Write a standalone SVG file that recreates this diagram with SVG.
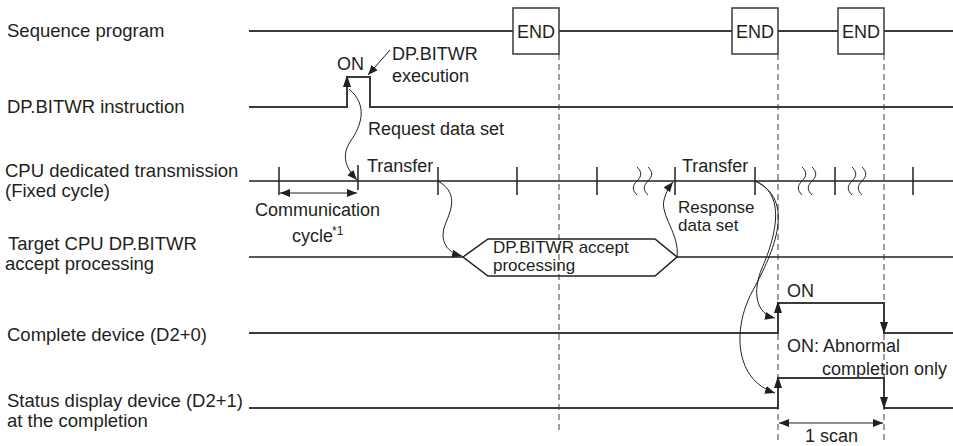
<svg xmlns="http://www.w3.org/2000/svg" width="953" height="446" viewBox="0 0 953 446">
<style>
text{font-family:"Liberation Sans",Arial,sans-serif;font-size:18px;fill:#231f20}
.lbl{font-size:18.5px}
.sm{font-size:17px}
.sig{fill:none;stroke:#3a3a3a;stroke-width:2}
.thin{fill:none;stroke:#231f20;stroke-width:1.5}
.tick{stroke:#231f20;stroke-width:1.5}
.dash{stroke:#808080;stroke-width:1.5;stroke-dasharray:6 4;fill:none}
.box{fill:#fff;stroke:#3a3a3a;stroke-width:1.5}
.con{fill:none;stroke:#231f20;stroke-width:1}
.ah{fill:#231f20}
.sup{font-size:12px}
</style>
<defs>
<marker id="arr" viewBox="0 0 10 10" refX="10" refY="5" markerWidth="10" markerHeight="10" markerUnits="userSpaceOnUse" orient="auto-start-reverse">
<path d="M0,1 L10,5 L0,9 Z" fill="#231f20"/>
</marker>
</defs>

<g id="guides">
<line class="dash" x1="559" y1="54" x2="559" y2="434"/>
<line class="dash" x1="778" y1="54" x2="778" y2="442"/>
<line class="dash" x1="884" y1="54" x2="884" y2="442"/>
</g>

<g id="sequence-program">
<text class="lbl" x="7" y="37">Sequence program</text>
<line class="sig" x1="249" y1="31" x2="953" y2="31"/>
<rect class="box" x="513" y="8" width="46" height="46"/>
<text x="536" y="38" text-anchor="middle">END</text>
<rect class="box" x="732" y="8" width="46" height="46"/>
<text x="755" y="38" text-anchor="middle">END</text>
<rect class="box" x="838" y="8" width="46" height="46"/>
<text x="861" y="38" text-anchor="middle">END</text>
</g>

<g id="instruction">
<text class="lbl" x="7" y="113">DP.BITWR instruction</text>
<polyline class="sig" points="249,107 347,107 347,77 370,77 370,107 953,107"/>
<polygon class="ah" points="347,75 343,87 351,87"/>
<text x="337" y="70">ON</text>
<text x="392" y="60">DP.BITWR</text>
<text x="392" y="82">execution</text>
<line class="con" x1="390" y1="50" x2="368" y2="75" marker-end="url(#arr)"/>
</g>

<g id="transmission">
<text class="lbl" x="5" y="177">CPU dedicated transmission</text>
<text class="lbl" x="5" y="197">(Fixed cycle)</text>
<line class="thin" x1="249" y1="181" x2="953" y2="181"/>
<g class="tick">
<line x1="279" y1="167" x2="279" y2="195"/>
<line x1="358" y1="165" x2="358" y2="190"/>
<line x1="438" y1="167" x2="438" y2="195"/>
<line x1="517" y1="167" x2="517" y2="195"/>
<line x1="597" y1="167" x2="597" y2="195"/>
<line x1="675" y1="167" x2="675" y2="195"/>
<line x1="755" y1="167" x2="755" y2="195"/>
<line x1="835" y1="167" x2="835" y2="195"/>
<line x1="913" y1="167" x2="913" y2="195"/>
</g>
<g class="con">
<path d="M637,167 c5,5 5,9 0,14 c-5,5 -5,9 0,14"/>
<path d="M648,167 c5,5 5,9 0,14 c-5,5 -5,9 0,14"/>
<path d="M802,167 c5,5 5,9 0,14 c-5,5 -5,9 0,14"/>
<path d="M812,167 c5,5 5,9 0,14 c-5,5 -5,9 0,14"/>
<path d="M852,167 c5,5 5,9 0,14 c-5,5 -5,9 0,14"/>
<path d="M862,167 c5,5 5,9 0,14 c-5,5 -5,9 0,14"/>
</g>
<text x="367" y="172">Transfer</text>
<text x="682" y="172">Transfer</text>
<line class="con" x1="280" y1="193" x2="357" y2="193" marker-start="url(#arr)" marker-end="url(#arr)"/>
<text x="255" y="216">Communication</text>
<text x="292" y="242">cycle</text>
<text class="sup" x="332" y="235">*1</text>
</g>

<g id="target-cpu">
<text class="lbl" x="8" y="250">Target CPU DP.BITWR</text>
<text class="lbl" x="5" y="270">accept processing</text>
<polyline class="thin" points="249,257 463,257"/>
<polygon class="thin" points="463,257 488,239 655,239 677,257 655,276 488,276"/>
<line class="thin" x1="677" y1="257" x2="953" y2="257"/>
<text class="sm" x="493" y="253">DP.BITWR accept</text>
<text class="sm" x="493" y="271">processing</text>
<text class="sm" x="678" y="213">Response</text>
<text class="sm" x="678" y="231">data set</text>
</g>

<g id="complete-device">
<text class="lbl" x="7" y="341">Complete device (D2+0)</text>
<polyline class="sig" points="249,333 778,333 778,303 884,303 884,333 953,333"/>
<polygon class="ah" points="778,301 774,313 782,313"/>
<polygon class="ah" points="884,334 880,322 888,322"/>
<text x="787" y="297">ON</text>
<text x="787" y="352">ON: Abnormal</text>
<text x="822" y="375">completion only</text>
</g>

<g id="status-device">
<text class="lbl" x="7" y="407">Status display device (D2+1)</text>
<text class="lbl" x="7" y="427">at the completion</text>
<polyline class="sig" points="249,408 778,408 778,378 884,378 884,408 953,408"/>
<polygon class="ah" points="778,376 774,388 782,388"/>
<polygon class="ah" points="884,409 880,397 888,397"/>
<line class="con" x1="779" y1="423" x2="883" y2="423" marker-start="url(#arr)" marker-end="url(#arr)"/>
<text x="805" y="442">1 scan</text>
</g>

<g id="connectors">
<path class="con" d="M349,89 C368,105 362,125 350,142 C340,158 348,170 357,180" marker-end="url(#arr)"/>
<text x="368" y="135">Request data set</text>
<path class="con" d="M438,181 C462,195 448,215 444,228 C440,245 450,253 462,256" marker-end="url(#arr)"/>
<path class="con" d="M677,257 C680,235 660,215 664,200 C666,192 669,187 673,182" marker-end="url(#arr)"/>
<path class="con" d="M755,181 C790,195 772,245 762,268 C752,292 756,314 775,318" marker-end="url(#arr)"/>
<path class="con" d="M755,181 C796,200 775,250 752,292 C732,330 735,380 775,393" marker-end="url(#arr)"/>
</g>
</svg>
